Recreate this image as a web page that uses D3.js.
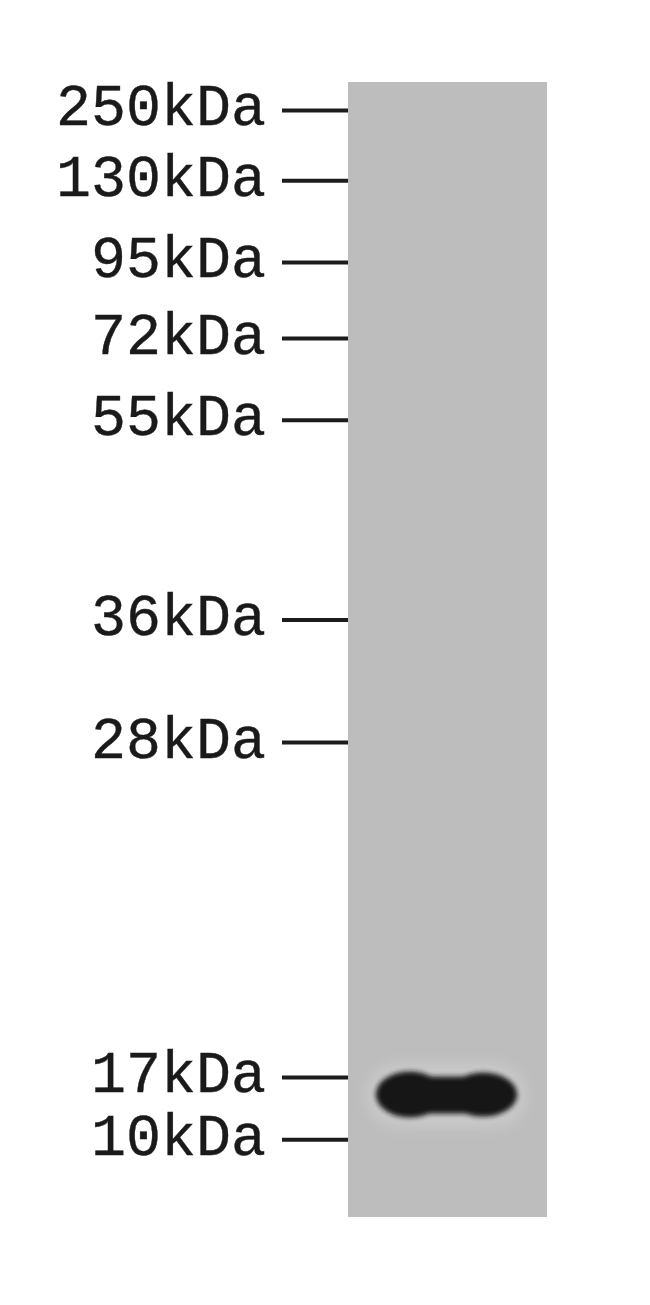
<!DOCTYPE html>
<html>
<head>
<meta charset="utf-8">
<script src="https://cdn.jsdelivr.net/npm/d3@7"></script>
<style>
  html, body { margin: 0; padding: 0; background: #fff; }
  svg { display: block; }
</style>
</head>
<body>
<div id="blot"></div>
<script>
const markerLabels = ["250kDa", "130kDa", "95kDa", "72kDa", "55kDa", "36kDa", "28kDa", "17kDa", "10kDa"];
const markerRf = [0.025, 0.087, 0.159, 0.226, 0.298, 0.474, 0.582, 0.877, 0.932];

// detected band: migration and horizontal extent across the lane
const bandRf = [0.893];
const bandSpan = [0.14, 0.85];

const width = 650;
const height = 1305;
const lane = { x0: 348, x1: 547, y0: 82, y1: 1217 };

const svg = d3
  .select("#blot")
  .append("svg")
  .attr("width", width)
  .attr("height", height)
  .attr("viewBox", `0 0 ${width} ${height}`);

const y = d3.scaleLinear().domain([0, 1]).range([lane.y0, lane.y1]);
const xLane = d3.scaleLinear().domain([0, 1]).range([lane.x0, lane.x1]);

const defs = svg.append("defs");
defs
  .append("filter")
  .attr("id", "blur")
  .attr("x", "-20%")
  .attr("y", "-60%")
  .attr("width", "140%")
  .attr("height", "220%")
  .append("feGaussianBlur")
  .attr("stdDeviation", 2.5);
defs
  .append("filter")
  .attr("id", "halo")
  .attr("x", "-30%")
  .attr("y", "-100%")
  .attr("width", "160%")
  .attr("height", "300%")
  .append("feGaussianBlur")
  .attr("stdDeviation", 7);

svg.append("rect").attr("width", width).attr("height", height).attr("fill", "#fff");

/* ---------- Lane ---------- */
svg
  .append("rect")
  .attr("x", lane.x0)
  .attr("y", lane.y0)
  .attr("width", lane.x1 - lane.x0)
  .attr("height", lane.y1 - lane.y0)
  .attr("fill", "#bdbdbd");

/* ---------- Marker ticks ---------- */
svg
  .selectAll(".tick")
  .data(markerRf)
  .enter()
  .append("line")
  .attr("class", "tick")
  .attr("x1", 282)
  .attr("x2", lane.x0)
  .attr("y1", (d) => y(d))
  .attr("y2", (d) => y(d))
  .attr("stroke", "#1c1c1c")
  .attr("stroke-width", 4);

/* ---------- Marker labels ---------- */
svg
  .selectAll(".marker-label")
  .data(markerLabels)
  .enter()
  .append("text")
  .attr("class", "marker-label")
  .attr("x", 266)
  .attr("y", (d, i) => y(markerRf[i]) + 15)
  .attr("text-anchor", "end")
  .attr("font-family", "'Liberation Mono', 'DejaVu Sans Mono', monospace")
  .attr("font-size", 59)
  .attr("fill", "#1a1a1a")
  .attr("stroke", "#1a1a1a")
  .attr("stroke-width", 0.4)
  .attr("textLength", (d) => d.length * 35)
  .attr("lengthAdjust", "spacingAndGlyphs")
  .text((d) => d);

/* ---------- Band ---------- */
const band = svg.selectAll(".band").data(bandRf).enter().append("g").attr("class", "band");
const bx0 = xLane(bandSpan[0]);
const bx1 = xLane(bandSpan[1]);

band
  .append("rect")
  .attr("x", bx0 - 8)
  .attr("y", (d) => y(d) - 31)
  .attr("width", bx1 - bx0 + 16)
  .attr("height", 62)
  .attr("rx", 31)
  .attr("fill", "#cbcbcb")
  .attr("filter", "url(#halo)");

const core = band.append("g").attr("filter", "url(#blur)").attr("fill", "#131313");
core
  .append("ellipse")
  .attr("cx", bx0 + 34)
  .attr("cy", (d) => y(d) - 1)
  .attr("rx", 34)
  .attr("ry", 23);
core
  .append("ellipse")
  .attr("cx", bx1 - 34)
  .attr("cy", (d) => y(d) - 1)
  .attr("rx", 34)
  .attr("ry", 22);
core
  .append("rect")
  .attr("x", bx0 + 25)
  .attr("y", (d) => y(d) - 19)
  .attr("width", bx1 - bx0 - 50)
  .attr("height", 37);
</script>
</body>
</html>
